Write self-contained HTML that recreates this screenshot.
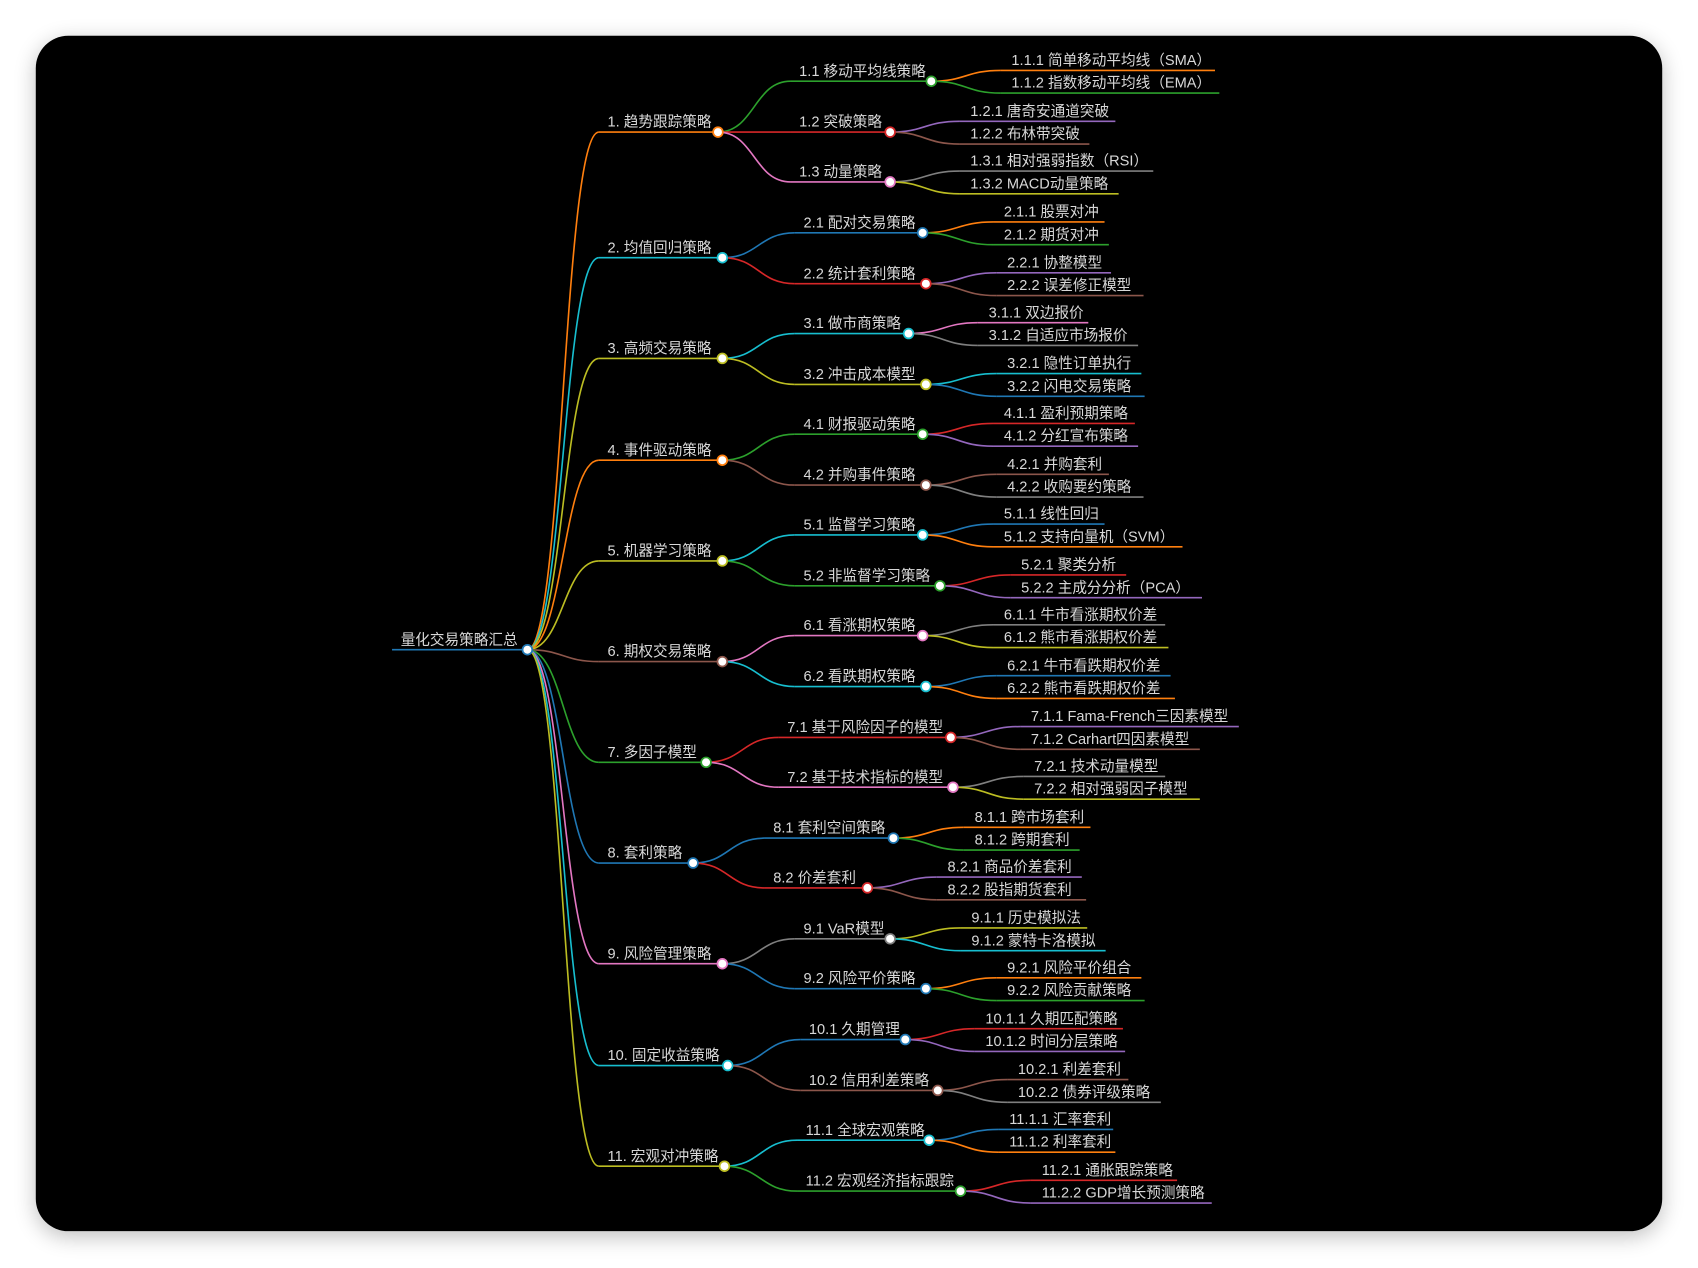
<!DOCTYPE html>
<html><head><meta charset="utf-8"><style>
html,body{margin:0;padding:0;background:#fff;width:1698px;height:1268px;overflow:hidden}
svg{display:block}
text{font-family:"Liberation Sans","Noto Sans CJK SC",sans-serif;font-size:13.5px;fill:#d8d8d8}
</style></head><body>
<svg id="s" width="1698" height="1268" viewBox="0 0 1568 1171" xmlns="http://www.w3.org/2000/svg">
<defs><filter id="sh" x="-10%" y="-10%" width="120%" height="120%"><feGaussianBlur stdDeviation="10"/></filter></defs>
<rect x="33" y="38" width="1502" height="1104" rx="30" fill="#000" opacity="0.25" filter="url(#sh)"/>
<rect x="33" y="33" width="1502" height="1104" rx="30" fill="#000"/>
<g id="g" fill="none" stroke-width="1.5"></g>
</svg>
<script>
var C={o:"#ff7f0e",c:"#17becf",y:"#bcbd22",b:"#1f77b4",g:"#2ca02c",r:"#d62728",p:"#e377c2",n:"#8c564b",u:"#9467bd",a:"#7f7f7f"};
var D=[
["1. 趋势跟踪策略",122,663,"o",[
 ["1.1 移动平均线策略",75,860,738,"g",[["1.1.1 简单移动平均线（SMA）",934,1122,"o"],["1.1.2 指数移动平均线（EMA）",934,1126,"g"]]],
 ["1.2 突破策略",122,822,738,"r",[["1.2.1 唐奇安通道突破",896,1030,"u"],["1.2.2 布林带突破",896,1006,"n"]]],
 ["1.3 动量策略",168,822,738,"p",[["1.3.1 相对强弱指数（RSI）",896,1065,"a"],["1.3.2 MACD动量策略",896,1033,"y"]]]]],
["2. 均值回归策略",238,667,"c",[
 ["2.1 配对交易策略",215,852,742,"b",[["2.1.1 股票对冲",927,1020,"o"],["2.1.2 期货对冲",927,1024,"g"]]],
 ["2.2 统计套利策略",262,855,742,"r",[["2.2.1 协整模型",930,1026,"u"],["2.2.2 误差修正模型",930,1056,"n"]]]]],
["3. 高频交易策略",331,667,"y",[
 ["3.1 做市商策略",308,839,742,"c",[["3.1.1 双边报价",913,1005,"p"],["3.1.2 自适应市场报价",913,1051,"a"]]],
 ["3.2 冲击成本模型",355,855,742,"y",[["3.2.1 隐性订单执行",930,1054,"c"],["3.2.2 闪电交易策略",930,1057,"b"]]]]],
["4. 事件驱动策略",425,667,"o",[
 ["4.1 财报驱动策略",401,852,742,"g",[["4.1.1 盈利预期策略",927,1048,"r"],["4.1.2 分红宣布策略",927,1051,"u"]]],
 ["4.2 并购事件策略",448,855,742,"n",[["4.2.1 并购套利",930,1024,"n"],["4.2.2 收购要约策略",930,1056,"a"]]]]],
["5. 机器学习策略",518,667,"y",[
 ["5.1 监督学习策略",494,852,742,"c",[["5.1.1 线性回归",927,1020,"b"],["5.1.2 支持向量机（SVM）",927,1092,"o"]]],
 ["5.2 非监督学习策略",541,868,742,"g",[["5.2.1 聚类分析",943,1040,"r"],["5.2.2 主成分分析（PCA）",943,1110,"u"]]]]],
["6. 期权交易策略",611,667,"n",[
 ["6.1 看涨期权策略",587,852,742,"p",[["6.1.1 牛市看涨期权价差",927,1076,"a"],["6.1.2 熊市看涨期权价差",927,1079,"y"]]],
 ["6.2 看跌期权策略",634,855,742,"c",[["6.2.1 牛市看跌期权价差",930,1081,"b"],["6.2.2 熊市看跌期权价差",930,1085,"o"]]]]],
["7. 多因子模型",704,652,"g",[
 ["7.1 基于风险因子的模型",681,878,727,"r",[["7.1.1 Fama-French三因素模型",952,1144,"u"],["7.1.2 Carhart四因素模型",952,1108,"n"]]],
 ["7.2 基于技术指标的模型",727,880,727,"p",[["7.2.1 技术动量模型",955,1076,"a"],["7.2.2 相对强弱因子模型",955,1108,"y"]]]]],
["8. 套利策略",797,640,"b",[
 ["8.1 套利空间策略",774,825,714,"b",[["8.1.1 跨市场套利",900,1007,"o"],["8.1.2 跨期套利",900,997,"g"]]],
 ["8.2 价差套利",820,801,714,"r",[["8.2.1 商品价差套利",875,999,"u"],["8.2.2 股指期货套利",875,1003,"n"]]]]],
["9. 风险管理策略",890,667,"p",[
 ["9.1 VaR模型",867,822,742,"a",[["9.1.1 历史模拟法",897,1004,"y"],["9.1.2 蒙特卡洛模拟",897,1021,"c"]]],
 ["9.2 风险平价策略",913,855,742,"b",[["9.2.1 风险平价组合",930,1054,"o"],["9.2.2 风险贡献策略",930,1057,"g"]]]]],
["10. 固定收益策略",984,672,"c",[
 ["10.1 久期管理",960,836,747,"b",[["10.1.1 久期匹配策略",910,1037,"r"],["10.1.2 时间分层策略",910,1039,"u"]]],
 ["10.2 信用利差策略",1007,866,747,"n",[["10.2.1 利差套利",940,1042,"n"],["10.2.2 债券评级策略",940,1072,"a"]]]]],
["11. 宏观对冲策略",1077,669,"y",[
 ["11.1 全球宏观策略",1053,858,744,"c",[["11.1.1 汇率套利",932,1028,"b"],["11.1.2 利率套利",932,1030,"o"]]],
 ["11.2 宏观经济指标跟踪",1100,887,744,"g",[["11.2.1 通胀跟踪策略",962,1087,"r"],["11.2.2 GDP增长预测策略",962,1119,"u"]]]]]
];
var g=document.getElementById("g"),s=document.getElementById("s"),ns="http://www.w3.org/2000/svg",circles=[],texts=[];
function el(t,a,p){var e=document.createElementNS(ns,t);for(var k in a)e.setAttribute(k,a[k]);(p||g).appendChild(e);return e;}
function curve(x0,y0,x1,y1,col){var m=(x0+x1)/2;el("path",{d:"M"+x0+","+y0+"C"+m+","+y0+" "+m+","+y1+" "+x1+","+y1,stroke:col});}
function line(x0,x1,y,col){el("path",{d:"M"+x0+","+y+"H"+x1,stroke:col});}
function txt(s2,x,y){texts.push([s2,x,y]);}
var rx=487,ry=600;
line(362,rx,ry,C.b);txt("量化交易策略汇总",370,ry-5);circles.push([rx,ry,C.b]);
D.forEach(function(a){var col=C[a[3]],y=a[1],cx=a[2];
 curve(rx,ry,553,y,col);line(553,cx,y,col);txt(a[0],561,y-5);circles.push([cx,y,col]);
 a[4].forEach(function(b){var c2=C[b[4]],y2=b[1],cx2=b[2],sx=b[3]-8;
  curve(cx,y,sx,y2,c2);line(sx,cx2,y2,c2);txt(b[0],b[3],y2-5);circles.push([cx2,y2,c2]);
  b[5].forEach(function(d,i){var y3=y2+(i==0?-10:11),c3=C[d[3]],s3=d[1]-10;
   curve(cx2,y2,s3,y3,c3);line(s3,d[2],y3,c3);txt(d[0],d[1],y3-5);});
 });
});
circles.forEach(function(c){el("circle",{cx:c[0],cy:c[1],r:4.5,fill:"#fff",stroke:c[2],"stroke-width":1.6});});
texts.forEach(function(t){var e=el("text",{x:t[1],y:t[2]},s);e.textContent=t[0];});
</script>
</body></html>
